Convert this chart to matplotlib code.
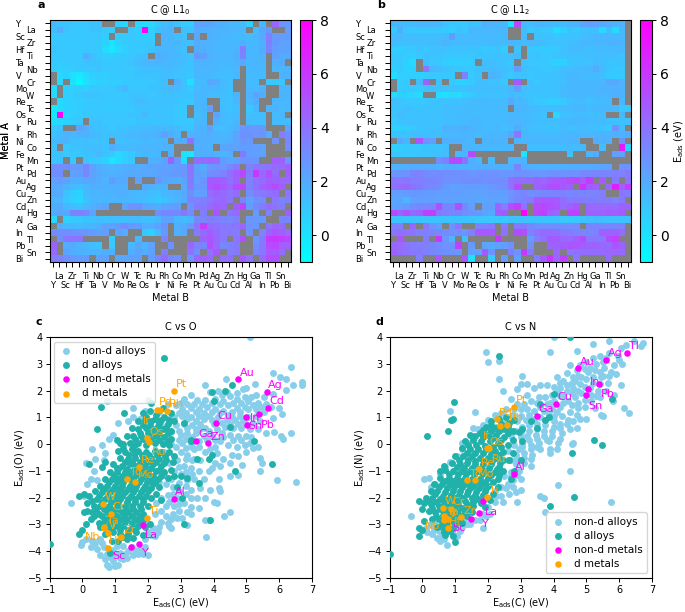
import numpy as np
import matplotlib
matplotlib.use('Agg')
import matplotlib.pyplot as plt

N = float('nan')
metals = ['Y','La','Sc','Zr','Hf','Ti','Ta','Nb','V','Cr','Mo','W','Re','Tc','Os','Ru','Ir','Rh','Ni','Co','Fe','Mn','Pt','Pd','Au','Ag','Cu','Zn','Cd','Hg','Al','Ga','In','Tl','Pb','Sn','Bi']

c_l10 = [
[1.4,1.2,1.2,1.0,1.0, 1.0,1.1,1.2,N,N, .6,.5,N,.5,.2, .4,1.0,1.4,1.5,1.2, .9,.8,2.3,2.3,2.1, 1.9,1.8,1.6,1.5,1.4, .7,N,1.5,N,4.4,2.8,2.6],
[1.3,1.9,1.1,1.0,1.0, 1.0,1.1,1.1,1.0,.7, N,N,1.0,.7,8, .7,1.2,1.6,1.6,N, 1.3,1.1,2.0,1.8,1.8, 1.7,1.7,1.6,1.6,1.5, N,1.4,2.1,2.6,N,N,2.5],
[1.0,1.0,.9,1.0,.9, 1.0,1.0,1.0,.8,N, .8,.9,1.0,.8,.6, .7,N,1.7,1.6,1.3, 1.2,N,2.1,N,1.8, 1.7,1.6,1.5,1.4,1.4, 1.4,1.6,2.0,3.5,2.6,2.5,2.5],
[1.0,.9,.9,.9,.9, 1.0,1.0,.9,.6,.1, .6,.8,1.0,.9,.9, 1.0,N,1.6,1.6,1.5, 1.3,1.2,1.9,1.8,1.7, 1.6,1.5,1.5,1.5,1.8, 1.5,1.5,1.8,3.6,2.6,2.3,2.3],
[1.1,.9,.9,.9,.9, 1.0,1.0,.9,.4,-.2, .4,.7,.9,.9,1.0, 1.1,1.5,1.6,1.6,1.4, 1.2,N,1.9,1.8,1.7, 1.6,1.5,1.5,1.7,3.5, 1.5,1.5,1.9,3.3,2.4,2.2,2.2],
[1.0,.9,1.0,.9,1.0, 1.9,1.3,1.0,.8,.8, .9,.9,1.0,1.2,1.3, N,1.9,1.7,1.6,1.5, 1.3,1.2,2.6,2.4,1.8, 1.6,1.6,1.6,1.9,3.3, 1.6,1.5,1.7,N,2.2,1.9,2.0],
[.9,.8,.9,.9,1.0, 1.1,1.2,1.1,.9,.9, 1.0,1.0,1.2,1.4,1.6, 1.6,1.7,1.6,1.5,1.4, 1.3,1.2,1.7,1.7,1.7, 1.5,1.5,1.5,1.7,2.0, 1.5,1.5,1.7,N,1.8,1.9,N],
[.8,.7,.8,.8,.9, 1.0,1.0,1.2,1.0,1.0, 1.0,1.0,1.0,1.2,1.3, 1.3,1.3,1.4,1.4,1.3, 1.2,1.1,1.6,1.6,1.6, 1.5,1.4,1.4,1.6,N, 1.5,1.5,1.5,N,1.6,1.6,1.7],
[N,.5,.6,.1,-.1, .4,.7,.8,.8,.9, .9,1.0,1.0,1.1,1.1, 1.1,1.2,1.3,1.3,1.2, 1.1,.9,1.5,1.5,1.5, 1.4,1.3,1.3,1.5,N, 1.4,1.4,1.4,N,N,1.7,1.7],
[N,.4,N,.1,-.7, .2,.5,.6,.7,.8, .8,.9,.9,1.0,1.0, 1.0,1.1,1.3,N,1.8, 1.1,.1,1.4,1.4,2.1, 2.0,1.4,1.3,N,N, 1.4,1.4,N,1.0,.9,1.0,N],
[.3,N,.6,.7,.8, .7,.9,.9,1.0,1.0, 1.1,1.5,1.0,1.0,1.0, 1.1,1.2,1.3,1.5,1.4, 1.2,.9,1.4,1.5,1.6, 1.5,1.4,1.2,N,N, 1.6,1.4,1.7,N,N,1.6,1.6],
[.3,N,.7,.8,.9, 1.2,1.2,1.1,1.0,1.0, 1.0,1.0,1.1,1.1,1.1, 1.0,1.1,1.2,1.3,1.2, 1.1,1.1,1.5,1.5,1.4, 1.4,1.3,1.2,1.7,N, 1.7,2.2,1.9,N,N,1.7,1.7],
[N,.4,.6,.7,.8, .9,1.0,1.0,.9,.9, .9,1.0,1.1,1.4,1.3, 1.2,1.1,1.2,1.2,1.1, 1.0,1.0,1.5,1.5,N, N,1.3,1.2,1.6,N, 1.6,1.9,N,N,1.6,1.5,1.6],
[-.2,.3,.6,.7,.8, .9,.9,.9,.9,.9, .9,.9,1.0,1.1,1.2, 1.1,1.1,1.1,1.1,1.0, 1.0,N,1.4,1.5,2.4, N,1.3,1.2,1.3,N, .9,1.6,N,1.7,1.7,1.4,1.5],
[-.3,8,.5,.7,.8, .9,1.0,1.0,1.0,1.0, 1.0,1.0,1.1,1.1,1.5, 1.1,1.2,1.1,1.1,1.0, 1.0,N,1.3,1.4,N, 2.3,1.4,1.3,1.4,N, 1.2,1.3,1.4,N,1.4,1.5,N],
[.4,.4,.6,.8,1.0, N,1.2,1.2,1.0,1.0, 1.0,1.0,1.0,1.1,1.1, 1.1,1.1,1.1,1.1,1.0, 1.0,1.0,1.4,1.5,N, 1.8,1.4,1.3,1.6,N, 1.4,1.3,1.3,N,1.4,1.4,1.4],
[1.0,1.2,N,N,2.3, 1.9,1.3,1.2,1.2,1.0, 1.1,1.2,1.3,1.3,1.4, 1.4,1.5,1.4,1.5,1.4, 1.2,1.1,1.7,1.7,2.3, 1.3,1.3,1.5,1.8,2.7, 2.7,2.7,2.7,N,N,N,2.3],
[1.2,1.4,1.7,1.6,1.7, 1.7,1.5,1.4,1.2,1.3, 1.3,1.4,1.5,1.6,1.7, 1.7,1.8,2.3,1.9,1.6, N,1.7,1.8,1.8,1.9, 1.7,1.6,1.7,2.2,2.9, 2.9,2.7,2.8,1.9,N,3.5,3.0],
[1.4,1.5,1.7,1.3,1.2, 1.3,1.2,1.2,1.1,N, 1.2,1.3,1.3,1.4,1.5, 1.4,1.5,1.6,N,1.9, 1.9,4.0,1.9,1.8,1.8, 1.7,1.7,1.8,2.2,2.7, 2.6,N,N,N,2.8,N,3.2],
[1.2,N,1.0,1.1,1.2, 1.3,1.3,1.3,1.1,1.9, 1.5,1.4,1.4,1.5,1.6, 1.6,1.6,1.7,1.7,N, N,N,1.8,1.8,1.7, N,2.1,2.2,2.3,2.5, 2.5,2.4,2.3,N,N,N,3.0],
[1.1,1.2,1.0,.9,1.0, 1.1,1.2,1.6,1.1,.9, .4,.6,1.0,1.3,1.5, 1.4,1.5,N,1.9,N, .1,-.2,1.7,1.8,1.9, 1.7,1.7,1.8,N,3.7, 2.4,2.4,2.2,N,N,N,N],
[1.0,1.1,N,1.0,N, 1.1,.9,.8,.6,-.1, .4,.7,.9,N,N, 1.8,1.8,2.2,4.5,2.6, .2,N,4.1,4.2,4.4, 4.3,2.5,2.1,2.2,2.8, 2.8,2.7,N,N,4.7,4.5,2.6],
[3.0,3.0,3.0,2.7,2.6, 3.2,2.3,1.9,1.7,1.6, 1.7,1.8,1.9,1.9,2.0, 2.1,2.2,2.3,2.4,2.5, 2.6,3.9,2.2,1.9,2.7, 2.8,2.7,3.2,3.8,N, 3.4,3.8,3.9,3.9,4.3,4.3,4.6],
[3.0,3.1,N,2.3,2.4, 3.2,2.3,2.0,1.8,1.7, 1.8,1.9,2.0,2.0,2.1, 2.1,2.2,2.4,2.5,2.6, 2.7,3.8,2.4,2.2,3.0, 3.1,3.4,4.1,4.7,5.4, 3.6,6.0,4.3,5.2,4.2,N,4.7],
[2.3,2.5,2.2,1.9,1.9, 2.1,2.1,1.9,1.7,2.5, 2.0,2.0,N,2.3,N, N,2.7,2.1,2.0,1.9, 2.1,3.8,2.2,2.8,4.8, 4.9,4.5,4.0,4.5,N, 3.4,4.0,4.2,4.7,4.5,4.4,4.3],
[2.0,2.0,1.7,1.4,1.3, 1.6,1.8,1.8,1.8,1.8, 1.8,1.8,N,N,2.0, 1.8,1.7,1.7,N,N, 2.0,3.6,2.6,2.6,4.9, 5.3,4.9,4.4,5.3,5.5, 3.5,4.0,4.6,5.0,5.3,4.6,N],
[2.0,1.9,1.2,.8,.6, 1.4,1.7,1.6,1.7,1.7, 1.8,1.8,1.6,1.4,1.6, 1.3,1.2,1.5,1.6,1.8, 2.0,3.0,2.3,2.4,4.2, 4.5,4.3,3.9,4.2,N, 3.0,3.6,3.8,4.0,4.2,N,3.9],
[1.6,1.6,1.0,.7,.5, 1.2,1.5,1.5,1.5,1.6, 1.6,1.6,1.5,1.4,1.3, 1.1,.9,1.1,1.4,1.7, 1.9,3.4,3.4,3.5,3.9, 4.3,4.4,3.9,N,3.4, 2.3,2.8,3.0,N,3.8,3.3,3.6],
[1.9,2.0,1.5,1.3,1.1, 1.6,1.8,2.0,2.2,N, N,2.2,2.8,2.9,2.3, 2.0,1.9,2.2,2.4,2.4, N,2.8,3.8,3.7,4.3, 4.7,4.4,N,4.8,5.6, 2.5,3.2,3.6,4.2,3.9,3.6,N],
[1.9,2.1,2.0,3.3,3.5, 3.2,2.2,N,N,N, N,N,N,N,N, N,3.0,3.3,3.2,3.3, 3.7,3.2,N,3.6,N, 5.0,N,3.9,4.2,N, N,2.5,N,3.4,N,N,4.7],
[.5,N,.6,.9,1.0, 1.1,1.2,1.3,1.2,1.3, 1.3,1.3,1.4,1.4,1.3, 1.3,1.5,2.3,2.3,1.5, 1.4,1.7,3.2,3.3,3.6, 3.5,3.3,3.2,3.5,N, 2.7,2.6,2.7,N,N,3.3,3.3],
[N,1.8,1.5,1.5,1.4, 1.5,1.7,1.8,2.3,2.2, 2.6,3.0,2.6,2.5,1.9, 1.9,2.3,2.8,N,1.8, 2.0,2.7,3.9,5.8,4.3, 4.0,3.8,3.7,3.9,4.4, 2.9,2.7,N,3.9,4.4,4.2,N],
[3.1,3.0,3.0,2.9,2.8, 2.8,2.5,2.3,2.4,N, 2.2,1.9,N,N,1.0, .6,1.6,2.6,N,1.8, 2.0,N,3.6,4.2,4.7, 4.2,3.8,3.9,3.6,N, 2.8,N,3.3,4.5,5.0,4.6,4.3],
[N,2.9,3.8,3.9,3.9, N,N,N,N,.8, N,N,N,1.5,N, N,N,3.4,N,N, N,N,N,4.6,5.0, 4.4,3.8,N,3.9,5.1, N,2.7,3.8,5.9,6.0,5.8,5.4],
[4.5,N,1.9,2.0,1.7, 1.5,1.3,1.2,N,1.0, N,N,1.6,2.1,1.7, 2.3,N,N,2.9,N, N,4.4,3.4,3.3,5.2, 4.3,3.2,3.5,3.7,N, N,3.0,3.8,5.3,5.5,4.6,4.6],
[4.2,N,2.2,1.9,1.8, 1.7,1.7,1.7,1.9,1.8, N,N,1.9,2.3,1.9, 2.3,N,3.6,N,N, N,3.9,3.0,N,4.0, 4.9,N,3.6,3.8,N, N,3.4,3.8,4.9,4.7,4.2,N],
[3.6,3.4,3.0,2.6,2.5, 2.5,N,2.3,2.2,N, 2.1,2.1,2.2,2.2,N, 2.5,3.3,4.2,3.2,3.0, N,2.7,4.4,4.6,4.3, N,4.0,4.0,N,4.9, 3.9,N,4.2,5.2,5.2,N,N],
]

c_l12 = [
[1.5,1.4,1.4,1.4,1.5, 1.6,1.6,1.5,1.2,1.0, 1.0,1.0,1.1,1.1,1.8, 1.7,1.7,1.5,0,5.3, 1.4,1.3,1.5,1.5,1.4, 1.4,1.4,1.5,1.7,2.1, 2.4,2.3,2.0,1.8,1.7,1.7,N],
[.8,1.9,1.0,1.0,1.0, 1.0,1.0,1.0,.9,.7, 1.2,1.0,1.5,1.5,1.5, 1.6,1.5,1.5,N,N, 1.4,.9,1.1,1.0,.9, .2,.6,1.2,.9,1.2, 1.2,1.3,.2,1.3,.3,1.5,N],
[1.4,1.4,1.3,1.3,1.3, 1.3,1.3,1.3,1.4,2.5, 1.4,1.4,1.4,1.4,1.4, 1.4,1.4,1.5,N,N, 1.4,N,1.2,1.2,1.2, 1.0,1.1,1.2,1.2,1.3, 1.4,1.5,1.5,1.5,1.5,1.5,N],
[1.4,1.3,1.3,1.3,1.3, 1.3,1.4,1.4,1.7,1.4, 1.4,1.4,1.4,1.4,1.4, 1.5,1.4,1.4,1.6,1.4, 1.4,1.6,1.4,1.3,1.2, 1.2,1.2,1.3,1.3,1.5, 1.5,1.6,1.6,1.7,1.7,1.7,N],
[.8,.8,.9,1.0,1.1, 1.0,1.2,1.2,1.2,1.1, 1.2,1.2,1.1,1.1,.9, 1.0,1.2,.8,N,1.1, N,1.0,.9,.9,.9, 1.0,1.2,1.4,1.4,1.4, 1.3,1.4,1.4,1.4,1.4,1.5,N],
[.9,.9,.8,.7,1.0, 1.2,1.1,1.1,1.0,.9, 1.0,1.0,1.0,1.1,1.1, 1.1,1.2,1.1,1.3,1.4, N,1.1,1.1,1.0,1.0, 1.1,1.1,1.2,1.2,1.2, 1.3,1.3,1.3,1.3,1.3,1.2,N],
[.9,1.0,.6,.4,N, 1.3,1.0,1.0,.8,.6, .7,.8,.8,N,1.3, 1.3,1.2,1.1,1.0,N, 1.2,1.0,1.0,1.0,.8, .6,.6,1.1,1.2,1.2, 1.2,1.4,1.3,1.1,1.1,1.2,N],
[.7,.9,.6,.6,N, 3.8,1.6,1.4,1.2,1.1, 1.0,1.0,1.0,1.1,1.3, 1.4,1.3,1.3,1.2,2.4, 1.3,1.1,1.1,1.0,1.0, 1.1,1.3,1.3,1.4,1.4, 1.5,2.0,1.4,1.1,.9,1.0,N],
[.2,.7,.7,.8,.7, .8,1.0,.9,1.0,.9, N,3.3,.9,1.2,N, 1.7,1.5,1.2,1.0,1.2, 1.1,1.0,1.1,1.1,1.1, 1.2,1.3,1.5,1.5,1.4, 1.4,1.4,1.3,.9,.9,.9,N],
[N,.8,.9,N,1.4, 4.5,N,1.2,N,.9, .6,.6,.9,1.3,1.3, 1.2,1.2,1.0,N,4.8, N,1.3,1.0,1.1,1.1, 1.2,1.3,1.5,1.5,1.5, 1.5,1.5,1.6,2.0,2.0,1.7,N],
[N,.9,.9,1.0,.9, 1.1,1.3,1.2,1.2,1.2, 1.2,1.2,1.3,1.3,1.3, 1.3,1.3,1.3,1.5,2.4, 1.3,1.2,1.2,1.2,1.2, 1.2,1.4,1.5,1.5,1.5, 1.5,1.6,1.7,1.7,1.8,1.7,N],
[.4,.6,.6,.5,.3, N,N,.2,.1,.4, .2,.7,.9,1.1,1.2, 1.2,1.1,1.2,1.4,1.3, 1.2,1.1,1.1,1.1,1.2, 1.2,1.4,1.5,1.5,1.5, 1.5,1.5,1.6,1.6,1.8,1.7,N],
[1.3,1.1,.9,1.0,.9, 1.0,1.1,1.1,1.2,1.2, 1.2,1.3,1.4,1.4,1.5, 1.4,1.4,1.4,2.0,1.6, 1.4,1.2,1.0,1.0,.7, .8,1.0,1.3,1.4,1.4, 1.2,1.4,1.4,1.5,N,1.5,N],
[1.1,1.2,1.3,1.1,1.1, 1.2,1.2,1.1,1.3,1.3, 1.4,1.4,1.4,1.4,1.4, 1.4,1.4,1.4,N,1.6, 1.5,1.4,1.4,1.3,1.3, 1.3,1.4,1.4,1.5,1.5, 1.4,1.5,1.5,1.5,1.5,1.0,1.0],
[1.1,1.4,1.2,1.1,1.2, 1.2,1.2,1.2,1.3,1.3, 1.4,1.4,1.4,1.4,1.4, 1.4,1.4,1.4,1.5,1.5, 1.4,1.4,1.3,1.2,N, .5,1.2,1.3,1.4,1.4, 1.3,1.3,1.4,N,N,1.5,N],
[1.0,1.1,1.2,1.2,1.2, 1.2,1.2,1.2,1.3,1.3, 1.4,1.4,1.5,1.5,1.4, 1.4,1.4,1.4,1.6,1.6, 1.5,1.4,1.3,1.3,1.3, 1.3,1.4,1.5,1.5,1.5, 1.4,1.4,1.4,1.3,1.2,1.2,1.2],
[.7,.6,.8,1.0,1.1, 1.1,1.3,1.2,1.8,1.7, 1.7,1.9,1.7,1.6,1.4, 1.4,1.5,1.2,1.4,2.0, 1.4,1.3,1.2,1.2,1.1, 1.2,1.4,1.2,1.3,1.4, 1.3,1.2,1.1,1.0,2.8,1.4,N],
[1.1,1.2,1.2,1.3,1.3, 1.3,1.3,1.3,1.4,1.5, 1.6,1.6,1.5,1.4,1.5, 1.5,1.6,1.6,2.0,3.8, 1.5,1.4,1.4,1.4,1.4, 1.4,1.5,1.6,1.6,1.6, 1.6,1.6,1.7,1.7,1.8,1.7,1.9],
[N,2.0,1.7,N,5.0, 2.8,2.4,N,1.8,1.8, 1.8,1.7,1.6,N,1.7, 1.7,1.7,1.7,N,1.7, 1.6,1.5,1.5,1.5,1.5, 1.5,1.6,1.7,1.7,N, N,1.9,1.8,1.8,N,2.9,N],
[.7,.8,.9,1.0,1.0, 1.1,1.1,1.1,1.3,N, N,1.7,1.6,1.6,1.5, 1.5,1.5,1.5,1.6,N, N,1.3,1.3,1.3,1.3, 1.3,1.4,1.4,1.4,1.5, N,N,1.3,N,N,7.0,.6],
[1.0,1.0,1.0,1.0,1.1, 1.1,1.2,1.3,1.3,N, 1.5,1.7,5.5,N,N, N,N,N,N,N, .0,N,N,N,N, N,N,1.2,N,N, 1.7,2.0,N,N,2.4,2.3,N],
[N,N,N,N,N, N,N,3.0,3.4,5.4, 5.3,4.0,1.8,1.5,N, 1.4,N,N,1.6,1.6, 1.7,N,N,N,N, N,N,N,N,N, N,N,N,N,N,N,N],
[1.6,1.7,1.8,1.9,1.9, 1.9,1.9,1.7,1.9,1.9, 1.8,1.8,1.8,1.8,1.8, 1.8,1.8,1.8,1.8,3.4, 1.9,1.8,1.7,1.7,1.7, 1.8,1.8,1.8,1.9,1.9, 1.9,2.0,2.1,2.3,N,2.9,2.9],
[2.7,2.8,2.8,3.3,3.4, 3.1,3.0,3.1,3.0,3.0, 2.9,2.9,2.7,2.8,2.8, 2.8,2.8,2.7,2.7,2.9, 2.9,2.8,2.7,2.7,2.8, 2.9,2.8,2.9,2.9,3.2, 3.2,3.3,3.3,3.3,3.5,3.4,3.7],
[3.9,3.8,3.9,3.5,3.5, 3.3,3.3,3.2,2.9,2.9, 2.9,3.0,3.0,3.0,2.9, 3.0,3.0,3.0,4.0,4.2, 4.2,4.2,4.5,4.4,4.8, 5.0,5.0,5.3,5.5,4.9, 5.9,N,4.7,N,3.7,N,3.9],
[4.0,4.3,4.4,4.0,3.7, 3.3,3.2,3.1,2.6,2.3, 2.4,2.5,2.5,2.5,2.4, 2.7,2.8,3.0,3.9,5.3, N,N,4.5,4.8,5.2, 5.3,4.9,4.5,N,6.2, 4.8,4.6,N,4.3,6.9,4.7,5.8],
[2.4,2.4,2.5,2.6,2.6, 2.5,2.5,2.4,2.4,2.4, 2.4,2.3,2.3,2.3,2.3, 2.4,2.4,2.4,2.8,3.1, 3.3,3.0,3.1,3.2,3.2, 3.4,3.4,3.2,3.3,3.3, 3.3,3.4,3.5,N,N,3.9,3.6],
[2.1,2.1,1.6,2.3,2.4, 2.4,2.4,2.3,2.3,2.3, 2.3,2.2,2.2,2.1,2.1, 2.2,2.3,2.3,2.9,3.2, 3.5,3.8,4.8,5.0,5.0, 4.8,4.1,3.8,3.8,3.7, 3.6,3.6,3.6,3.6,3.4,3.7,N],
[2.3,2.4,2.6,3.0,3.2, 3.2,3.3,5.2,3.3,3.3, 5.2,3.2,2.4,N,2.4, 2.4,4.4,3.5,5.2,5.8, 3.9,N,5.3,5.4,5.2, 5.0,4.3,4.5,5.0,N, 4.3,4.3,4.3,4.3,4.3,4.6,4.5],
[5.5,4.5,5.2,4.2,4.5, 5.8,5.8,3.8,3.5,3.2, 3.3,3.0,2.8,2.6,2.3, 2.0,4.6,4.8,N,N, 8.0,N,5.6,5.7,4.6, 4.4,N,5.7,5.7,N, 4.6,4.6,4.6,4.8,4.7,4.8,N],
[1.1,1.1,1.1,1.1,1.1, 1.1,1.1,1.2,1.1,1.1, 1.1,1.1,1.1,1.0,1.0, 1.0,1.0,1.0,1.2,1.2, 1.2,1.1,1.1,1.1,1.1, 1.1,1.0,1.0,1.0,1.1, 1.3,1.4,1.3,1.2,1.2,1.2,1.2],
[3.5,3.5,N,4.4,N, 3.8,2.8,2.4,N,2.9, 3.9,N,N,3.4,3.5, 3.8,N,3.7,N,3.7, 3.7,3.2,3.0,3.0,3.0, 3.0,3.0,3.0,3.1,N, 3.3,3.3,3.3,3.3,3.3,3.3,N],
[3.9,4.1,4.0,3.9,3.5, 3.5,3.3,3.2,3.1,3.0, 2.9,2.8,3.5,4.9,4.9, 4.8,N,4.0,N,5.3, 5.2,3.5,3.9,4.3,4.2, 4.1,3.8,3.6,3.3,3.3, 3.2,3.5,4.7,4.5,4.5,4.2,N],
[N,5.0,N,N,N, 3.6,N,6.0,2.7,1.6, N,1.3,N,N,N, N,6.0,N,N,N, N,2.4,3.5,4.0,4.8, 4.8,4.4,4.2,4.7,5.3, 3.8,3.7,3.8,5.3,5.7,N,N],
[4.4,4.3,4.0,3.6,3.6, 3.5,3.3,3.1,2.8,2.8, 5.6,N,2.6,N,2.3, 2.0,2.2,2.4,2.9,N, N,3.0,N,N,4.5, 4.5,4.7,5.0,5.0,4.7, 4.5,4.5,4.4,4.2,5.0,4.5,N],
[4.5,4.2,4.0,3.8,3.7, 3.5,3.2,3.1,3.0,2.9, 2.6,N,2.2,2.3,4.8, 2.8,N,N,3.5,2.8, 6.0,3.8,N,N,N, 4.4,N,3.9,4.0,4.1, 4.2,4.2,4.3,4.4,4.4,4.3,N],
[N,N,N,N,3.5, N,N,5.0,N,N, N,5.0,.1,N,N, .8,N,2.4,N,2.3, N,N,3.6,4.8,6.2, 4.4,5.7,N,3.8,N, N,N,N,4.2,N,N,N],
]

nond_alloys_o = [
(5.1,4.0),(6.35,2.87),(5.8,2.65),(6.02,2.5),(6.2,2.45),(6.7,2.33),(6.68,2.2),(6.43,2.2),(6.22,2.02),(4.37,2.45),(3.75,2.2),(5.25,2.25),(5.8,1.87),(6.1,1.13),(5.8,.97),(6.35,.4),(6.05,.3),(6.12,.2),(5.85,.47),(6.5,-1.43),(5.93,-1.33),(5.43,-.53),(5.48,-.7),(5.42,-1.0),(4.87,-.77),(4.75,-1.15),(4.5,-1.2),(4.2,-.8),(3.95,-.9),(4.05,-.7),(4.18,-1.3),(4.17,-1.65),(4.2,-1.75),(4.0,-2.15),(4.1,-2.2),(4.5,-2.55),(4.33,-2.7),(3.85,-2.85),(3.75,-2.85),(3.78,-3.48),(3.2,-3.03),(2.65,-3.05),(2.7,-3.15),(2.2,-3.45),(2.0,-4.15),(.75,-4.5),(.82,-4.6),(1.0,-4.55),(1.1,-4.5),(.75,1.62),(-.35,-2.2),
(.1,-.7),(.3,-.2),(.6,-.05),(.8,.2),(.95,.35),(1.1,.8),(1.4,.85),(1.55,1.0),(1.55,1.35),(1.75,.95),(1.9,1.25),(2.0,1.65),(.7,-.35),(.4,-.55),(.65,-.6),(.35,-1.0),(.25,-1.3),(.45,-1.35),(.15,-1.5),(.05,-1.95),
(-.05,-3.75),(.0,-3.65),(.1,-3.55),(.25,-3.85),(.3,-3.6),(.45,-3.9),(.55,-4.15),(.65,-3.85),(.7,-4.3),(.85,-4.2),(.95,-4.35),(1.0,-4.1),(1.15,-4.05),(1.25,-4.3),(1.35,-4.25),(1.4,-4.0),(1.55,-4.15),(1.6,-3.95),(1.75,-3.95),(1.85,-4.1),(1.9,-3.85),(.8,-3.95),(.55,-3.55),(2.0,-3.3),(1.9,-3.55),
(2.0,-3.0),(2.15,-3.15),(2.3,-3.3),(2.4,-2.9),(2.55,-2.7),(2.75,-2.6),(2.55,-2.3),(2.8,-2.3),(2.95,-2.5),(3.05,-2.75),(3.2,-2.55),(3.3,-2.35),(3.1,-2.2),(2.4,-2.0),(2.6,-1.9),(2.75,-1.6),(2.55,-1.5),(2.35,-1.4),(2.95,-1.75),(3.15,-1.85),(3.3,-1.7),(3.5,-2.0),(3.4,-1.3),(3.2,-1.35),(3.0,-1.1),(2.8,-1.0),(2.65,-.7),(2.9,-.6),(3.1,-.8),(3.3,-.9),(3.55,-1.0),(3.7,-1.3),(3.85,-1.0),(3.6,-.6),(3.75,-.3),(3.4,-.55),(2.2,-2.6),(2.25,-2.2),(2.6,-2.95),(2.9,-2.0),(3.3,-2.0),(3.6,-1.65),(2.5,-1.15),(2.7,-1.3),
(3.0,-.3),(3.2,-.4),(3.4,-.2),(2.85,-.1),(3.05,.05),(3.3,.05),(3.55,-.1),(3.9,-.2),(4.1,-.35),(4.3,-.55),(4.55,-.4),(4.75,-.45),(5.0,-.3),(3.0,.35),(3.2,.4),(3.45,.4),(3.7,.3),(3.95,.3),(4.2,.1),(4.45,-.05),(4.7,-.1),(4.95,-.05),(5.15,.25),(5.0,.3),(4.75,.3),(4.5,.35),(4.25,.4),
(2.85,.7),(3.1,.75),(3.35,.7),(3.6,.75),(3.85,.5),(4.1,.55),(4.35,.65),(4.6,.6),(4.85,.6),(5.1,.55),(5.35,.55),(5.6,.4),(5.2,.8),(4.9,.85),(4.65,.9),(4.4,.9),(4.15,1.0),(3.85,1.05),(3.55,1.05),(3.3,1.0),(3.05,1.05),(2.8,1.0),
(2.6,1.5),(2.85,1.45),(3.05,1.3),(3.3,1.35),(3.55,1.3),(3.8,1.4),(4.05,1.3),(4.3,1.25),(4.55,1.2),(4.8,1.2),(5.05,1.3),(5.3,1.3),(5.55,1.2),(5.75,1.4),(6.0,1.35),(3.1,1.7),(3.3,1.85),(3.5,1.65),(3.75,1.65),(4.05,1.7),(4.3,1.6),(4.6,1.55),(4.85,1.55),(5.05,1.6),(5.35,1.55),(5.6,1.5),(4.4,1.95),(4.7,1.9),(4.9,2.05),(5.0,2.1),(5.3,1.85),(5.55,1.75),(4.15,2.0),(3.9,1.95),
(3.3,-2.6),(3.55,-2.4),(3.75,-2.0),(3.9,-1.7),(2.5,-.3),(2.7,.0),(2.55,.3),(2.7,.45),(2.4,.7),(2.6,.95),(2.35,1.2),(5.2,-.15),(5.35,-.1),(4.05,-.1),(3.55,.1),(4.5,-.7),
(2.95,.15),(3.15,.2),(3.35,.25),(3.6,.55),(3.8,.15),(4.05,.15),(4.3,.25),(4.6,.15),(4.85,.15),(5.1,.05),(2.95,.5),(3.2,.6),(3.45,.55),(3.75,.6),(4.0,.75),(4.25,.8),(4.5,.75),(4.75,.75),(5.0,.75),(5.4,.85),(3.2,.95),(3.45,.85),(3.7,.95),(3.95,.9),(4.55,1.0),(4.8,1.05),(5.05,1.0),(5.3,1.05),(2.95,1.15),(3.15,1.15),(3.45,1.2),(3.7,1.15),(3.95,1.2),(4.2,1.15),(4.45,1.1),(4.7,1.35),(4.95,1.4),(5.2,1.45),(5.45,1.4),(3.0,1.55),(3.2,1.5),(3.4,1.5),(3.65,1.5),(3.95,1.55),(4.2,1.5),(4.45,1.45),(4.7,1.7),(4.95,1.75),(5.15,1.75),(4.5,1.8),(4.25,1.85),(3.15,-.15),(3.35,-.1),(3.15,-.55),(3.35,-.6),(2.95,-.85),(3.15,-1.05),(3.35,-1.1),(2.95,-1.45),(3.15,-1.55),(2.75,-1.85),(2.65,-2.15),(2.95,-2.25),(2.4,-2.5),(2.7,-2.8),(2.9,-2.75),(2.35,-3.1),(2.1,-3.4),(.4,-3.7),(.6,-3.7),(.75,-4.1),(.95,-3.95),(1.15,-4.25),(1.3,-4.1),(1.5,-3.85),(1.7,-4.1),(1.05,-3.8),(1.25,-3.8),
]
d_alloys_o = [
(2.5,3.2),(.57,1.37),(.45,.55),(1.27,1.15),(-1,-3.73),(3.95,1.95),(4.35,1.97),(4.55,2.2),(4.0,1.6),(2.1,1.55),(4.5,.63),(5.23,.13),(5.78,-.73),(4.65,-1.02),(3.9,-2.85),(3.1,-2.97),(3.55,-1.47),(3.05,-2),(3.5,-.57),(3.85,-.55),(3.95,-.4),(3.3,.1),(.2,-.75),(-.1,-3.35),(.05,-2.55),(3.3,.15),(3.1,.8),(1.15,.05),(1.05,-.9),(.7,-.65),(.6,-.85),
(2.05,1.25),(2.25,1.1),(2.5,1.0),(2.7,1.15),(1.85,1.15),(2.45,1.35),(1.7,.85),(1.9,.9),(2.1,.85),(2.35,.8),(2.6,.75),(2.8,.85),(1.5,.6),(1.7,.55),(1.95,.6),(2.2,.55),(2.45,.55),(2.7,.5),(1.35,.3),(1.55,.3),(1.8,.3),(2.0,.4),(2.25,.3),(2.5,.25),(2.7,.2),(1.05,.15),(1.25,.0),(1.45,.05),(1.7,.05),(1.95,-.05),(2.2,.05),(2.45,.0),(2.65,-.05),
(1.1,-.25),(1.3,-.3),(1.5,-.2),(1.7,-.25),(1.95,-.3),(2.2,-.25),(2.4,-.3),(2.65,-.3),(2.8,-.45),(1.15,-.5),(1.4,-.55),(1.6,-.5),(1.85,-.55),(2.1,-.5),(2.35,-.55),(2.55,-.6),(2.75,-.65),(.95,-.75),(1.2,-.8),(1.45,-.75),(1.65,-.8),(1.9,-.8),(2.15,-.75),(2.4,-.8),(2.7,-.95),
(.85,-1.05),(1.05,-1.05),(1.3,-1.05),(1.55,-1.0),(1.75,-1.05),(2.0,-1.05),(2.25,-1.0),(2.5,-1.05),(.7,-1.3),(.9,-1.3),(1.1,-1.3),(1.35,-1.25),(1.55,-1.3),(1.8,-1.3),(2.05,-1.3),(2.3,-1.3),(2.6,-1.25),(2.8,-1.2),(3.0,-1.2),(3.2,-1.25),(.55,-1.55),(.75,-1.55),(1.0,-1.55),(1.2,-1.55),(1.45,-1.55),(1.65,-1.55),(1.9,-1.55),(2.15,-1.5),(2.35,-1.6),(2.9,-1.6),
(.4,-1.75),(.6,-1.8),(.85,-1.8),(1.1,-1.8),(1.3,-1.8),(1.55,-1.8),(1.8,-1.8),(2.0,-1.75),(2.25,-1.85),(.05,-1.85),(.2,-1.95),(.45,-2.05),(.7,-2.05),(.95,-2.05),(1.15,-2.05),(1.4,-2.05),(1.6,-2.05),(1.85,-2.05),(2.1,-2.0),(2.4,-2.1),(-.1,-1.95),(.15,-2.2),(.35,-2.3),(.55,-2.3),(.8,-2.3),(1.05,-2.3),(1.3,-2.3),(1.5,-2.3),(1.75,-2.3),(2.0,-2.3),
(.15,-2.5),(.3,-2.55),(.5,-2.6),(.75,-2.55),(.95,-2.55),(1.2,-2.55),(1.4,-2.55),(1.65,-2.55),(1.85,-2.6),(.25,-2.8),(.5,-2.95),(.7,-2.8),(.95,-2.85),(1.15,-2.8),(1.35,-2.8),(1.6,-2.8),(1.85,-2.85),(2.05,-3.0),(.55,-3.1),(.8,-3.1),(1.05,-3.05),(1.25,-3.05),(1.5,-3.1),(1.7,-3.05),(1.9,-3.1),(.7,-3.35),(.95,-3.3),(1.15,-3.35),(1.4,-3.35),(1.65,-3.3),(1.85,-3.4),(.9,-3.6),(1.1,-3.6),(1.35,-3.55),(.85,-4.05),(.0,-3.2),(.1,-3.0),(1.55,-3.5),
(1.25,-.15),(1.42,-.4),(1.62,-.35),(1.82,-.42),(2.02,-.4),(2.28,-.4),(2.52,-.45),(1.3,-.65),(1.52,-.65),(1.75,-.65),(1.98,-.65),(2.25,-.65),(2.48,-.7),(1.1,-.92),(1.35,-.92),(1.6,-.9),(1.85,-.92),(2.1,-.9),(2.35,-.95),(.98,-1.18),(1.2,-1.18),(1.42,-1.15),(1.65,-1.15),(1.9,-1.18),(2.15,-1.18),(2.4,-1.18),(.82,-1.42),(1.05,-1.42),(1.25,-1.42),(1.5,-1.42),(1.72,-1.42),(1.98,-1.42),(2.2,-1.42),(.65,-1.68),(.92,-1.68),(1.15,-1.68),(1.38,-1.68),(1.6,-1.68),(1.85,-1.68),(2.1,-1.65),(.5,-1.92),(.78,-1.92),(1.02,-1.92),(1.22,-1.92),(1.48,-1.92),(1.72,-1.92),(1.95,-1.92),(.3,-2.12),(.6,-2.18),(.88,-2.18),(1.1,-2.18),(1.35,-2.18),(1.6,-2.18),(1.85,-2.18),(.42,-2.45),(.65,-2.42),(.88,-2.42),(1.1,-2.42),(1.32,-2.42),(1.55,-2.42),(1.78,-2.42),(.35,-2.68),(.6,-2.7),(.85,-2.68),(1.05,-2.68),(1.28,-2.68),(1.5,-2.68),(1.75,-2.7),(.62,-2.95),(.85,-2.95),(1.08,-2.92),(1.3,-2.92),(1.5,-2.95),(1.72,-2.92),(.9,-3.18),(1.15,-3.2),(1.38,-3.2),(1.6,-3.2),(1.25,-3.48),(1.5,-.65),(1.6,-.05),(1.85,.18),(2.1,.18),(2.35,.15),(2.6,.1),(1.6,.18),(1.75,.42),(2.1,.45),(2.35,.42),(2.6,.4),(1.85,.72),(2.05,.72),(2.3,.68),(2.55,.62),(1.95,1.02),(2.2,.95),(2.4,.9),(2.65,.9),(2.3,1.25),
]
nond_alloys_n = [
(4.0,4.0),(6.45,3.85),(6.72,3.78),(6.67,3.68),(6.05,3.6),(6.2,3.7),(5.7,3.85),(5.2,3.75),(4.7,3.47),(3.9,3.43),(1.95,3.43),(2.0,3.05),(2.35,3.1),(2.35,2.45),(2.45,1.97),(3.05,2.55),(2.9,2.05),(3.0,2.25),(3.2,2.25),(3.2,1.85),(3.4,2.1),(3.6,2.2),(3.8,2.2),(4.0,2.15),(3.95,1.85),(4.2,2.1),(4.5,2.95),(4.4,2.65),(4.6,2.5),(4.8,2.95),(5.0,3.05),(5.2,3.2),(5.4,3.3),(5.7,3.4),(5.95,3.3),(6.1,3.0),(5.85,2.95),(5.75,2.7),(5.9,2.6),(6.05,2.2),(6.15,1.35),(6.3,1.15),(5.85,1.85),(5.8,1.6),(5.45,1.1),(5.5,1.05),(5.3,1.8),(5.25,1.35),(5.0,.95),(4.8,.95),(.85,1.23),(1.6,1.2),(.9,.9),(1.55,.6),(-.35,-2.68),(.05,-1.3),(.2,-1.27),(5.75,-2.18),(3.6,-1.95),(3.72,-2.03),(3.75,-2.53),(4.12,-1.52),(4.5,-1.02),(4.6,.05),(4.55,0.0),(4.1,-.2),(3.9,-.2),(4.15,.05),(1.85,-3.15),
(4.0,1.6),(4.2,1.8),(4.4,2.0),(4.6,2.1),(4.8,2.25),(5.0,2.45),(5.2,2.5),(5.4,2.7),(5.55,2.85),(5.3,3.0),(4.95,2.8),(4.7,2.75),(4.55,2.3),(4.3,2.35),(4.1,2.5),(5.1,2.1),(4.85,1.9),(4.65,1.75),(4.45,1.6),(4.2,1.4),(3.95,1.3),(3.7,1.25),(3.5,1.55),(3.3,1.6),(3.1,1.5),(2.9,1.5),(2.7,1.7),(2.55,1.3),(2.75,1.1),(3.0,1.05),(3.25,1.1),(3.55,1.75),(3.75,1.75),(4.0,1.05),(4.25,1.05),(4.5,1.2),(4.75,1.35),(4.95,1.4),(5.15,1.6),(5.4,1.75),(5.6,2.0),(5.65,2.3),(5.4,2.25),(4.7,1.1),(4.45,.9),(4.2,.75),(4.0,.85),(3.75,.9),(3.5,.75),(3.25,.7),(3.05,.65),(2.85,.5),(2.7,.3),(3.0,.25),(3.2,.3),(3.45,.35),(3.7,.5),(3.95,.5),(4.25,.4),(4.5,.55),(4.7,.6),(3.8,.15),(3.55,.05),(3.3,-.05),(3.05,-.1),(2.8,-.05),(2.6,-.25),(2.85,-.4),(3.1,-.35),(3.35,-.4),(3.6,-.2),(3.85,.1),(3.9,-.35),(2.6,-.6),(2.85,-.75),(3.1,-.7),(3.3,-.8),(2.95,-1.0),(2.7,-1.05),(2.5,-1.2),(2.75,-1.35),(3.0,-1.3),(2.6,-1.5),(2.4,-1.6),(2.65,-1.85),(2.85,-1.8),(3.0,-1.7),(2.4,-1.95),(2.2,-1.75),(2.2,-2.15),(2.9,-2.15),(2.0,-2.35),(1.85,-2.6),(2.05,-2.6),(1.6,-2.85),(1.75,-2.85),
(.25,-3.0),(.1,-3.15),(0,-3.2),(.15,-3.3),(.3,-3.35),(.45,-3.5),(.6,-3.45),(.75,-3.3),(.9,-3.2),(1.05,-3.1),(1.2,-3.1),(1.35,-3.0),(.75,-3.75),(1.05,-3.45),(1.3,-2.8),(.4,-2.85),(.25,-1.6),(.4,-1.5),(.55,-1.1),(.7,-.85),(.85,-.65),(1.05,-.45),(1.2,-.2),(1.2,.05),(1.4,.05),(1.5,.3),(1.7,.55),(1.85,.7),(2.0,.9),(2.2,1.1),(2.4,1.15),(2.0,.4),(2.25,.65),(2.5,.85),
(4.3,1.55),(4.55,1.45),(4.75,1.55),(4.95,1.65),(5.15,1.85),(5.35,2.0),(4.3,1.8),(4.55,1.9),(4.75,2.0),(4.95,2.15),(5.2,2.3),(4.4,2.2),(4.65,2.35),(4.85,2.5),(5.05,2.7),(5.25,2.75),(5.45,2.5),(4.2,2.3),(4.15,1.95),(3.9,1.55),(4.1,1.2),(3.85,1.1),(3.6,1.0),(3.4,.95),(3.15,.9),(2.9,.85),(3.0,.45),(3.25,.5),(3.5,.55),(3.75,.7),(4.0,.65),(4.2,.6),(4.4,.75),(4.6,.85),(3.4,1.25),(3.6,1.4),(3.8,1.5),(3.2,1.3),(3.0,1.3),(2.8,1.3),(3.05,.0),(3.25,.15),(3.5,.2),(3.7,.3),(3.95,.3),(4.2,.2),(3.3,-.2),(3.5,-.1),(3.1,-.5),(3.3,-.55),(2.9,-.55),(2.95,-.2),(2.7,-.6),(2.9,-1.15),(2.7,-1.2),(2.55,-1.65),(2.75,-1.6),(2.25,-1.95),(2.45,-2.15),(1.95,-2.7),(1.45,-3.0),(.55,-3.6),(.65,-3.55),(.35,-3.2),(.5,-3.25),(.95,-3.35),(1.15,-3.25),(5.5,3.05),(5.6,3.2),(5.1,2.85),(4.75,2.55),(5.5,2.55),(5.7,2.55),(6.0,3.15),
]
d_alloys_n = [
(4.5,4.0),(2.33,3.3),(.97,1.58),(.88,.9),(.95,.92),(.78,.5),(.15,.3),(1.45,.35),(-1,-4.1),(1.0,-3.67),(-.1,-3.43),(3.6,1.5),(4.0,1.87),(5.77,1.7),(3.5,.6),(3.75,.9),(3.85,1.0),(3.3,.85),(5.23,.17),(5.48,-.05),(4.57,-.35),(4.63,-1.97),(3.88,-2.32),(3.05,.55),(3.05,.1),(3.0,-.6),(2.75,-.35),(2.8,-1.0),(2.7,-1.3),(.55,-1.0),(.65,-.8),
(2.1,.85),(2.35,.95),(2.55,1.0),(2.8,.9),(1.95,.65),(2.2,.6),(2.5,.55),(2.75,.5),(2.95,.45),(1.75,.4),(2.0,.35),(2.25,.35),(2.5,.25),(2.75,.15),(1.3,.1),(1.55,.15),(1.8,.1),(2.05,.1),(2.3,.05),(2.6,-.05),(1.2,-.15),(1.45,-.2),(1.7,-.2),(1.95,-.2),(2.2,-.25),(2.45,-.3),(2.65,-.6),(1.0,-.45),(1.25,-.45),(1.5,-.45),(1.75,-.5),(2.0,-.5),(2.25,-.5),(2.45,-.6),(.9,-.7),(1.15,-.75),(1.35,-.7),(1.6,-.75),(1.85,-.75),(2.1,-.75),(2.35,-.85),(.7,-.95),(.95,-1.0),(1.2,-1.0),(1.45,-1.0),(1.7,-1.0),(1.95,-1.0),(2.2,-1.05),(2.45,-1.0),
(.55,-1.25),(.8,-1.25),(1.05,-1.25),(1.3,-1.25),(1.5,-1.3),(1.75,-1.3),(2.0,-1.25),(2.3,-1.3),(.35,-1.5),(.6,-1.5),(.85,-1.5),(1.1,-1.5),(1.3,-1.5),(1.55,-1.55),(1.8,-1.5),(2.0,-1.55),(2.3,-1.6),(.25,-1.75),(.45,-1.75),(.7,-1.8),(.95,-1.75),(1.15,-1.75),(1.4,-1.75),(1.65,-1.8),(1.9,-1.75),(2.15,-1.85),(.1,-2.0),(.3,-2.0),(.55,-2.05),(.8,-2.05),(1.0,-2.0),(1.25,-2.0),(1.5,-2.0),(1.7,-2.05),(2.05,-2.1),(-.1,-2.13),(.05,-2.2),(.25,-2.25),(.5,-2.3),(.7,-2.25),(.9,-2.25),(1.1,-2.25),(1.35,-2.25),(1.55,-2.3),(1.9,-2.35),(0,-2.42),(.2,-2.5),(.4,-2.55),(.65,-2.5),(.85,-2.5),(1.05,-2.5),(1.3,-2.5),(1.5,-2.55),(.05,-2.88),(.3,-2.8),(.5,-2.8),(.7,-2.75),(.95,-2.75),(1.15,-2.8),(1.35,-2.7),(.55,-3.05),(.75,-3.0),(1.0,-3.0),(1.2,-2.95),(.65,-3.3),(.85,-3.25),(.7,-3.4),(.95,-3.45),(-.1,-3.15),(0,-3.2),(.45,-3.1),
(1.4,-.05),(1.65,-.05),(1.9,-.08),(2.15,-.1),(2.4,-.12),(1.35,-.32),(1.6,-.33),(1.85,-.35),(2.1,-.38),(2.35,-.42),(1.12,-.6),(1.38,-.6),(1.62,-.62),(1.88,-.62),(2.12,-.62),(2.38,-.7),(1.05,-.85),(1.28,-.88),(1.52,-.88),(1.78,-.88),(2.02,-.88),(2.28,-.92),(.82,-1.12),(1.08,-1.12),(1.32,-1.12),(1.58,-1.12),(1.82,-1.12),(2.08,-1.15),(2.35,-1.15),(.68,-1.38),(.92,-1.38),(1.18,-1.38),(1.42,-1.4),(1.65,-1.4),(1.9,-1.4),(2.15,-1.42),(.5,-1.62),(.75,-1.65),(.98,-1.62),(1.22,-1.62),(1.45,-1.65),(1.72,-1.65),(1.95,-1.65),(.38,-1.88),(.62,-1.92),(.88,-1.9),(1.12,-1.9),(1.35,-1.88),(1.6,-1.9),(1.85,-1.9),(.18,-2.12),(.42,-2.18),(.65,-2.15),(.85,-2.15),(1.08,-2.12),(1.3,-2.12),(1.55,-2.15),(1.8,-2.2),(.3,-2.4),(.55,-2.42),(.78,-2.4),(.98,-2.38),(1.2,-2.38),(1.42,-2.4),(.42,-2.68),(.62,-2.65),(.85,-2.62),(1.1,-2.62),(1.25,-2.65),(.62,-2.9),(.85,-2.88),(1.08,-2.88),(.65,-3.15),(.95,-3.12),(1.6,.3),(1.85,.25),(2.15,.22),(2.4,.15),(2.6,.4),(1.85,.52),(2.1,.48),(2.35,.5),(2.6,.65),(2.1,.72),(2.4,.75),(2.65,.78),
]

d_metal_names = ['Pt','Pd','Rh','Ir','Os','Ru','Re','Tc','Mo','W','Cr','Ti','Ta','V','Zr','Nb','Hf']
d_metal_c = [2.78,2.28,2.57,2.37,1.96,2.03,1.73,1.36,1.61,.63,.86,1.97,.65,.78,1.19,.67,.78]
d_metal_o = [1.98,1.29,1.23,1.27,.22,.07,-.87,-1.32,-1.4,-2.25,-2.6,-2.77,-3.1,-3.32,-3.47,-3.13,-3.88]
d_metal_n = [1.39,.93,.73,.68,-.15,-.15,-.94,-1.33,-1.33,-2.37,-2.42,-1.97,-2.69,-2.79,-2.74,-2.82,-3.14]
d_label_o = [(3.02,2.23),(2.54,1.57),(2.86,1.5),(1.96,.88),(2.28,.47),(2.33,-.3),(2.0,-.6),(1.62,-1.06),(1.93,-1.16),(.86,-1.98),(1.11,-2.34),(2.18,-2.5),(.93,-2.88),(.94,-3.06),(1.43,-3.21),(.32,-3.47),(1.0,-3.62)]
d_label_n = [(3.02,1.63),(2.54,1.17),(2.86,.97),(1.96,.3),(2.28,.07),(2.33,-.55),(2.0,-.7),(1.62,-1.1),(1.93,-1.1),(.86,-2.13),(1.11,-2.15),(2.18,-1.72),(.93,-2.55),(.94,-2.6),(1.43,-2.5),(.32,-3.07),(1.0,-2.9)]

nond_metal_names_o = ['Au','Ag','Cd','Cu','In','Sn','Pb','Ga','Zn','Al','La','Y','Sc']
nond_metal_c_o = [4.75,5.62,5.66,4.07,5.0,5.03,5.38,3.47,3.84,2.78,1.85,1.74,1.47]
nond_metal_o = [2.42,1.96,1.34,.8,1.03,.73,1.12,.13,.03,-2.06,-3.02,-3.72,-3.83]
nond_label_o = [(5.02,2.66),(5.88,2.21),(5.94,1.61),(4.35,1.04),(5.26,.99),(5.26,.67),(5.66,.73),(3.76,.39),(4.13,.28),(3.0,-1.8),(2.12,-3.41),(1.91,-4.08),(1.12,-4.18)]
nond_metal_names_n = ['Tl','Ag','Au','Pb','In','Sn','Cu','Ga','Al','La','Y','Sc']
nond_metal_c_n = [6.23,5.61,4.75,5.39,5.04,4.99,4.07,3.48,2.78,1.86,1.74,1.47]
nond_metal_n = [3.42,3.15,2.84,2.26,2.07,1.82,1.51,1.05,-1.1,-2.12,-2.59,-2.79]
nond_label_n = [(6.45,3.68),(5.88,3.39),(5.02,3.08),(5.66,1.86),(5.25,2.32),(5.26,1.43),(4.35,1.76),(3.76,1.31),(3.0,-.86),(2.12,-2.53),(1.91,-2.97),(1.12,-3.15)]

W, H = 685, 612
fig = plt.figure(figsize=(W/100, H/100), dpi=100)

def axpx(x0, y0, x1, y1):
    return fig.add_axes([x0/W, 1-y1/H, (x1-x0)/W, (y1-y0)/H])

cmap = plt.get_cmap('cool').copy()
cmap.set_bad('#808080')

def heat(data, box, cbox, title, letter, lx, cblabel=None):
    ax = axpx(*box)
    arr = np.array(data, dtype=float)
    im = ax.imshow(arr, cmap=cmap, vmin=-1, vmax=8, aspect='auto', interpolation='nearest')
    n = len(metals)
    ax.set_xticks(range(n))
    ax.set_yticks(range(n))
    ax.set_xticklabels(metals, fontsize=6)
    ax.set_yticklabels(metals, fontsize=6, ha='left')
    ax.tick_params(length=3.5, width=0.7)
    for i, t in enumerate(ax.xaxis.get_major_ticks()):
        t.set_pad(3.5 if i % 2 else 10.5)
    for i, t in enumerate(ax.yaxis.get_major_ticks()):
        t.set_pad(13.3 if i % 2 else 21)
    ax.set_title(title, fontsize=7, pad=5)
    ax.set_xlabel('Metal B', fontsize=7, labelpad=2)
    ax.set_ylabel('Metal A', fontsize=7, labelpad=0)
    ax.yaxis.set_label_coords((11-box[0])/(box[2]-box[0]), 0.5)
    for s in ax.spines.values():
        s.set_linewidth(0.8)
    cax = axpx(*cbox)
    cb = fig.colorbar(im, cax=cax)
    cb.set_ticks([0, 2, 4, 6, 8])
    cb.ax.tick_params(labelsize=10, length=3, width=0.7, pad=3)
    if cblabel:
        cb.set_label(cblabel, fontsize=7, labelpad=2)
    fig.text(lx/W, 1-5/H, letter, fontsize=8, fontweight='bold', ha='center', va='center')

heat(c_l10, (49.5, 20, 291, 262), (300, 20, 312, 262), 'C @ L1$_0$', 'a', 41)
heat(c_l12, (389.5, 20, 631, 262), (640, 20, 652, 262), 'C @ L1$_2$', 'b', 381, 'E$_{\\mathrm{ads}}$ (eV)')

def scat(box, nond, dall, nm_names, nm_x, nm_y, nm_lab, d_y, d_lab, title, letter, lx, ylab, loc):
    ax = axpx(*box)
    ax.scatter(*zip(*nond), s=25, c='skyblue', linewidths=0, label='non-d alloys', zorder=2)
    ax.scatter(*zip(*dall), s=25, c='lightseagreen', linewidths=0, label='d alloys', zorder=3)
    ax.scatter(nm_x, nm_y, s=22, c='magenta', linewidths=0, label='non-d metals', zorder=4)
    ax.scatter(d_metal_c, d_y, s=22, c='orange', linewidths=0, label='d metals', zorder=5)
    for name, (tx, ty) in zip(nm_names, nm_lab):
        ax.text(tx, ty, name, color='magenta', fontsize=8, ha='center', va='center', zorder=6)
    for name, (tx, ty) in zip(d_metal_names, d_lab):
        ax.text(tx, ty, name, color='orange', fontsize=8, ha='center', va='center', zorder=6)
    ax.set_xlim(-1, 7)
    ax.set_ylim(-5, 4)
    ax.set_xticks(range(-1, 8))
    ax.set_yticks(range(-5, 5))
    ax.tick_params(labelsize=7, length=3, width=0.7, pad=2)
    ax.set_title(title, fontsize=7, pad=5)
    ax.set_xlabel('E$_{\\mathrm{ads}}$(C) (eV)', fontsize=7, labelpad=1)
    ax.set_ylabel(ylab, fontsize=7, labelpad=1)
    ax.legend(loc=loc, fontsize=7.5, labelspacing=0.4, borderaxespad=0.45, handlelength=1.5, handletextpad=0.8)
    for s in ax.spines.values():
        s.set_linewidth(0.8)
    fig.text(lx/W, 1-322/H, letter, fontsize=8, fontweight='bold', ha='center', va='center')

scat((49.5, 337, 312, 578), nond_alloys_o, d_alloys_o, nond_metal_names_o, nond_metal_c_o, nond_metal_o, nond_label_o, d_metal_o, d_label_o, 'C vs O', 'c', 39, 'E$_{\\mathrm{ads}}$(O) (eV)', 'upper left')
scat((389.5, 337, 652, 578), nond_alloys_n, d_alloys_n, nond_metal_names_n, nond_metal_c_n, nond_metal_n, nond_label_n, d_metal_n, d_label_n, 'C vs N', 'd', 379, 'E$_{\\mathrm{ads}}$(N) (eV)', 'lower right')

fig.savefig('out.png', dpi=100)
